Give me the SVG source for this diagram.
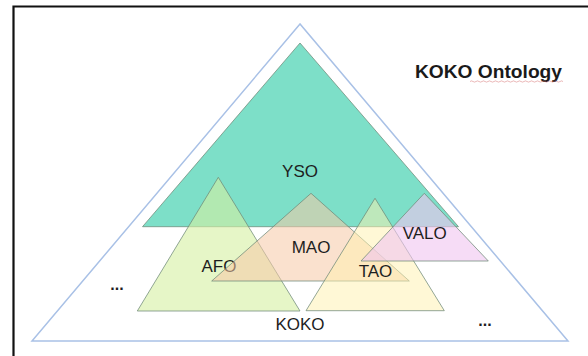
<svg xmlns="http://www.w3.org/2000/svg" width="588" height="356" viewBox="0 0 588 356">
  <style>
    .tri { stroke: #6f8a78; stroke-opacity: 0.75; stroke-width: 1; stroke-linejoin: miter; }
    .lbl { font-family: "Liberation Sans", Arial, sans-serif; font-size: 17px; fill: #1e1e1e; text-anchor: middle; }
    .dots { font-family: "Liberation Sans", Arial, sans-serif; font-size: 16px; font-weight: bold; fill: #1e1e1e; text-anchor: middle; }
  </style>
  <rect x="0" y="0" width="588" height="356" fill="#ffffff"/>
  <g id="frame">
    <path d="M13.5 360 V6.5 H592" fill="none" stroke="#111" stroke-width="2.2"/>
  </g>
  <g id="koko">
    <polygon points="300,24 32,341 568,341" fill="#ffffff" stroke="#a9c1e6" stroke-width="1.5"/>
    <text class="lbl" x="300" y="330">KOKO</text>
  </g>
  <g id="yso">
    <polygon class="tri" points="300,43 142.5,226.7 458.5,226.7" fill="#7ddfc8"/>
    <text class="lbl" x="300" y="176.5">YSO</text>
  </g>
  <g id="afo">
    <polygon class="tri" points="218.3,177.3 137.3,311 300,311" fill="#d6f0a2" fill-opacity="0.6"/>
    <text class="lbl" x="219" y="271.7">AFO</text>
  </g>
  <g id="mao">
    <polygon class="tri" points="311,193.3 211.7,281 409.3,281" fill="#f6c8a6" fill-opacity="0.55"/>
    <text class="lbl" x="311" y="253.3">MAO</text>
  </g>
  <g id="tao">
    <polygon class="tri" points="375,198.3 306,310.7 444.3,310.7" fill="#fff2ae" fill-opacity="0.5"/>
    <text class="lbl" x="375.5" y="277.3">TAO</text>
  </g>
  <g id="valo">
    <polygon class="tri" points="424.3,193.3 361,261 488.3,261" fill="#f0c4f0" fill-opacity="0.6"/>
    <text class="lbl" x="424.7" y="239.3">VALO</text>
  </g>
  <g id="more-left">
    <text class="dots" x="117" y="290">...</text>
  </g>
  <g id="more-right">
    <text class="dots" x="485" y="326">...</text>
  </g>
  <g id="title">
    <text x="415" y="78" font-family="Liberation Sans, Arial, sans-serif" font-size="18" font-weight="bold" fill="#1a1a1a" textLength="147" lengthAdjust="spacingAndGlyphs">KOKO Ontology</text>
    <path d="M470 81.5 q1.5 -1.2 3 0 t3 0 t3 0 t3 0 t3 0 t3 0 t3 0 t3 0 t3 0 t3 0 t3 0 t3 0 t3 0 t3 0 t3 0 t3 0 t3 0 t3 0 t3 0 t3 0 t3 0 t3 0 t3 0 t3 0 t3 0 t3 0 t3 0 t3 0 t3 0 t3 0 t3 0" fill="none" stroke="#d46a6a" stroke-opacity="0.6" stroke-width="0.8"/>
  </g>
  <g id="connectors"/>
</svg>
